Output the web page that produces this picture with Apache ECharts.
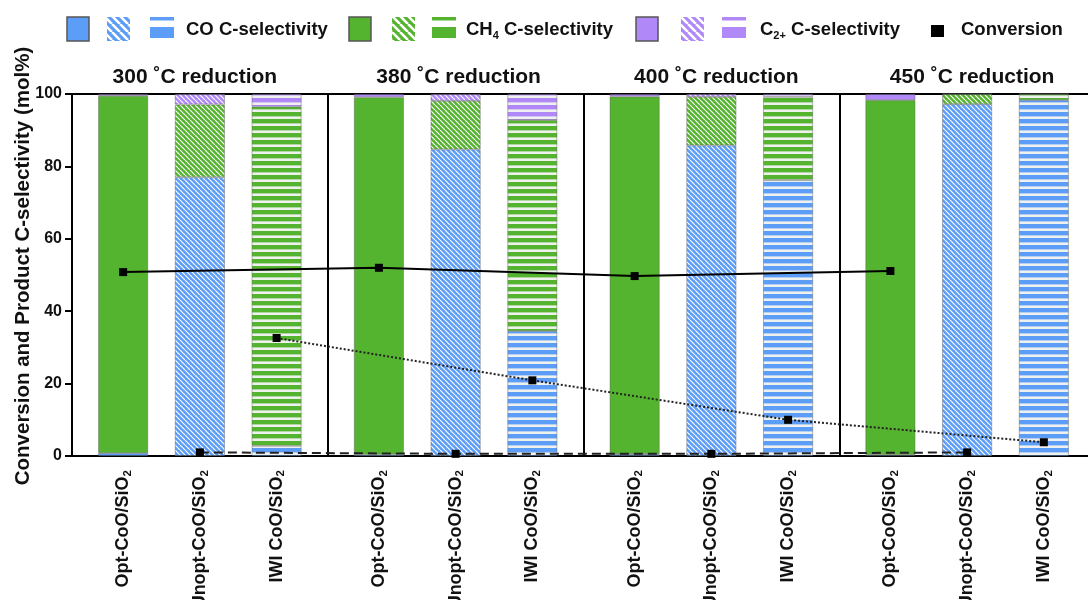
<!DOCTYPE html>
<html>
<head>
<meta charset="utf-8">
<script src="https://cdn.jsdelivr.net/npm/echarts@6/dist/echarts.min.js"></script>
<style>html,body{margin:0;padding:0;background:#fff}#c{width:1088px;height:600px}</style>
</head>
<body>
<div id="c"></div>
<script>
// ---------------- data ----------------
const panels = ['300 ˚C reduction', '380 ˚C reduction', '400 ˚C reduction', '450 ˚C reduction'];
const catalysts = ['Opt-CoO/SiO2', 'Unopt-CoO/SiO2', 'IWI CoO/SiO2'];
// C-selectivity (mol%) per bar, panel by panel: Opt, Unopt, IWI
const coSel  = [0.8, 77.0, 2.8,   0.4, 84.7, 34.5,   0.5, 85.8, 76.2,   0.3, 97.2, 98.3];
const ch4Sel = [98.7, 20.1, 93.7, 98.7, 13.4, 58.3,  98.8, 13.4, 23.0,  98.0, 2.8, 1.7];
const c2Sel  = [0.5, 2.9, 3.5,    0.9, 1.9, 7.2,     0.7, 0.8, 0.8,     1.7, 0.0, 0.0];
// Conversion (mol%) per panel
const convOpt   = [50.8, 52.0, 49.7, 51.1];
const convUnopt = [1.0, 0.6, 0.6, 1.0];
const convIWI   = [32.6, 20.9, 10.0, 3.8];
const yTicks = [0, 20, 40, 60, 80, 100];

// ---------------- layout helpers ----------------
const FONT = '"Liberation Sans", Arial, Helvetica, sans-serif';
const BLUE = '#5c9df8', GREEN = '#55b42f', PURPLE = '#b088f8';
const SLOTS = 10, OFFS = [2, 5, 8], NSLOT = panels.length * SLOTS + 1;
const GL = 72, GW = 1023, GT = 94, GB = 144;
const TITLE_SHIFT = [-10, -2, 0, 0];

const xCats = [], slotLabel = [];
for (let i = 0; i < NSLOT; i++) { xCats.push(String(i)); slotLabel.push(''); }
const barSlot = [];
panels.forEach((p, pi) => catalysts.forEach((c, ci) => {
  const s = pi * SLOTS + OFFS[ci];
  barSlot.push(s); slotLabel[s] = c;
}));

function diagPattern(color, p, lw) {
  const c = document.createElement('canvas'); c.width = p; c.height = p;
  const g = c.getContext('2d');
  g.fillStyle = color; g.fillRect(0, 0, p, p);
  g.strokeStyle = '#ffffff'; g.lineWidth = lw;
  g.beginPath();
  for (const k of [-1, 0, 1]) { g.moveTo(k * p, 0); g.lineTo(k * p + p, p); }
  g.stroke();
  return { image: c, repeat: 'repeat' };
}
function horizPattern(color, p, band) {
  const c = document.createElement('canvas'); c.width = 4; c.height = p;
  const g = c.getContext('2d');
  g.fillStyle = color; g.fillRect(0, 0, 4, p);
  g.fillStyle = '#eef1ee'; g.fillRect(0, p - band, 4, band);
  return { image: c, repeat: 'repeat' };
}
function fills(color) {
  return [color, diagPattern(color, 5, 1.15), horizPattern(color, 7, 2.6)];
}
const fillSets = { CO: fills(BLUE), CH4: fills(GREEN), C2: fills(PURPLE) };

function barData(vals, key) {
  const arr = new Array(NSLOT).fill('-');
  vals.forEach((v, i) => {
    arr[barSlot[i]] = { value: v, itemStyle: { color: fillSets[key][i % 3] } };
  });
  return arr;
}
function lineData(vals, ci) {
  const arr = new Array(NSLOT).fill('-');
  vals.forEach((v, pi) => { arr[pi * SLOTS + OFFS[ci]] = v; });
  return arr;
}

const barCommon = {
  type: 'bar', stack: 'sel', barWidth: 50,
  itemStyle: { borderColor: 'rgba(90,90,90,0.55)', borderWidth: 0.8 },
  emphasis: { disabled: true }, z: 2
};
const lineCommon = {
  type: 'line', connectNulls: true, symbol: 'rect', symbolSize: 8,
  itemStyle: { color: '#000' }, emphasis: { disabled: true }, z: 5
};

// ---------------- legend (graphic) ----------------
const legendGroups = [
  { color: BLUE,   xs: [67, 107, 150], tx: 186, text: '{b|CO C-selectivity}' },
  { color: GREEN,  xs: [349, 392, 432], tx: 466, text: '{b|CH}{s|4}{b| C-selectivity}' },
  { color: PURPLE, xs: [636, 681, 722], tx: 760, text: '{b|C}{s|2+}{b| C-selectivity}' }
];
const rich = {
  b: { font: 'bold 18.5px ' + FONT, fill: '#111' },
  s: { font: 'bold 11px ' + FONT, fill: '#111', verticalAlign: 'bottom', lineHeight: 22 }
};
const graphic = [];
legendGroups.forEach(g => {
  graphic.push({ type: 'rect', shape: { x: g.xs[0], y: 17, width: 22, height: 24 },
    style: { fill: g.color, stroke: '#555', lineWidth: 1.5 } });
  graphic.push({ type: 'rect', shape: { x: g.xs[1], y: 17, width: 23, height: 24 },
    style: { fill: diagPattern(g.color, 8, 2.6) } });
  graphic.push({ type: 'rect', shape: { x: g.xs[2], y: 17, width: 24, height: 3.5 }, style: { fill: g.color } });
  graphic.push({ type: 'rect', shape: { x: g.xs[2], y: 27, width: 24, height: 11 }, style: { fill: g.color } });
  graphic.push({ type: 'text', x: g.tx, y: 30,
    style: { text: g.text, rich: rich, verticalAlign: 'middle', align: 'left' } });
});
graphic.push({ type: 'rect', shape: { x: 931, y: 25, width: 13, height: 12 }, style: { fill: '#000' } });
graphic.push({ type: 'text', x: 961, y: 30,
  style: { text: 'Conversion', font: 'bold 18.5px ' + FONT, fill: '#111', verticalAlign: 'middle' } });

// ---------------- titles ----------------
const titles = panels.map((p, pi) => ({
  text: p,
  left: GL + GW * (pi * SLOTS + SLOTS / 2) / (NSLOT - 1) + TITLE_SHIFT[pi],
  top: 62,
  textAlign: 'center',
  textStyle: { fontFamily: FONT, fontWeight: 'bold', fontSize: 21, color: '#111' }
}));

const option = {
  animation: false,
  backgroundColor: '#fff',
  title: titles,
  graphic: graphic,
  grid: { left: GL, width: GW, top: GT, bottom: GB, containLabel: false, outerBoundsMode: 'none' },
  xAxis: [{
    type: 'category', data: xCats, boundaryGap: false,
    axisLine: { onZero: false, lineStyle: { color: '#000', width: 2 } },
    axisTick: { show: false },
    splitLine: { show: true, interval: (i) => i % SLOTS === 0 && i > 0 && i < NSLOT - 1,
      lineStyle: { color: '#000', width: 2 } },
    axisLabel: {
      interval: 0, rotate: 90, margin: 14,
      formatter: (v) => {
        const n = slotLabel[+v];
        if (!n) return '';
        return '{b|' + n.slice(0, -1) + '}{s|' + n.slice(-1) + '}';
      },
      rich: {
        b: { fontFamily: FONT, fontWeight: 'bold', fontSize: 18, color: '#111' },
        s: { fontFamily: FONT, fontWeight: 'bold', fontSize: 11.5, color: '#111', verticalAlign: 'bottom', lineHeight: 21 }
      }
    }
  }, {
    type: 'category', data: xCats, boundaryGap: false, position: 'top',
    axisLine: { onZero: false, lineStyle: { color: '#000', width: 2 } },
    axisTick: { show: false }, axisLabel: { show: false }, splitLine: { show: false }
  }],
  yAxis: {
    type: 'value', min: yTicks[0], max: yTicks[yTicks.length - 1], interval: 20,
    name: 'Conversion and Product C-selectivity (mol%)',
    nameLocation: 'middle', nameGap: 38, nameMoveOverlap: false,
    nameTextStyle: { fontFamily: FONT, fontWeight: 'bold', fontSize: 20.5, color: '#111', padding: [0, 0, 0, 18] },
    axisLine: { show: true, lineStyle: { color: '#000', width: 2 } },
    axisTick: { show: true, length: 7, lineStyle: { color: '#000', width: 2 } },
    splitLine: { show: false },
    axisLabel: { margin: 10, fontFamily: FONT, fontWeight: 'bold', fontSize: 16, color: '#111' }
  },
  series: [
    Object.assign({ name: 'CO C-selectivity', data: barData(coSel, 'CO') }, barCommon),
    Object.assign({ name: 'CH4 C-selectivity', data: barData(ch4Sel, 'CH4') }, barCommon),
    Object.assign({ name: 'C2+ C-selectivity', data: barData(c2Sel, 'C2') }, barCommon),
    Object.assign({ name: 'Conversion Opt', data: lineData(convOpt, 0),
      lineStyle: { color: '#000', width: 2 } }, lineCommon),
    Object.assign({ name: 'Conversion Unopt', data: lineData(convUnopt, 1),
      lineStyle: { color: '#222', width: 2, type: [9, 5] } }, lineCommon),
    Object.assign({ name: 'Conversion IWI', data: lineData(convIWI, 2),
      lineStyle: { color: '#222', width: 2, type: [2, 2] } }, lineCommon)
  ]
};
const chart = echarts.init(document.getElementById('c'), null, { renderer: 'canvas' });
chart.setOption(option);
</script>
</body>
</html>
